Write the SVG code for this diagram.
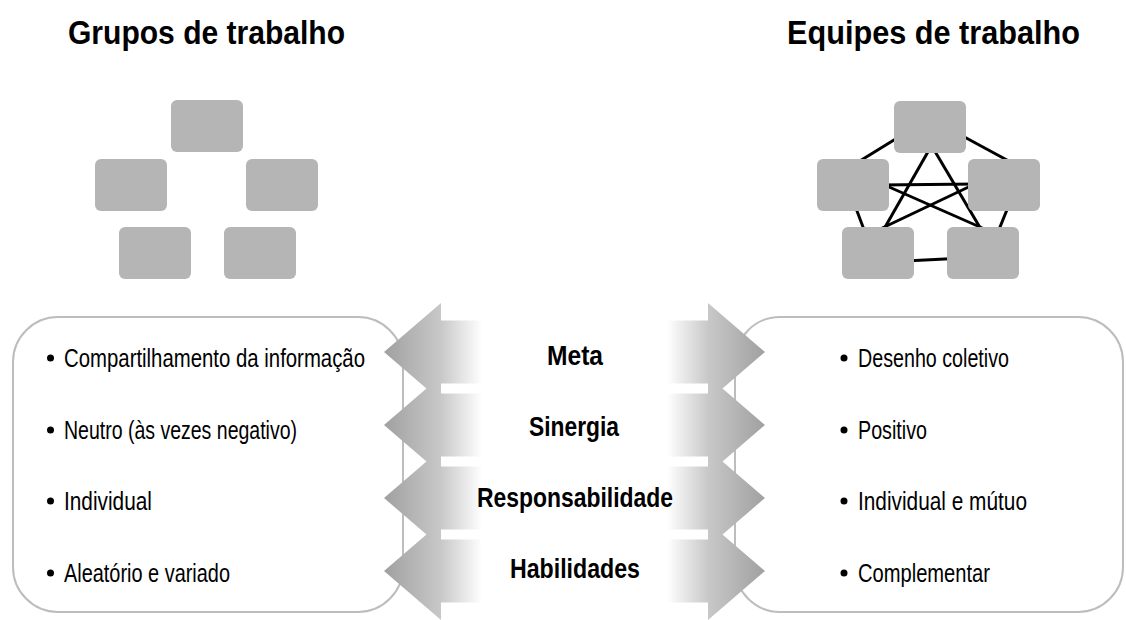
<svg xmlns="http://www.w3.org/2000/svg" width="1126" height="620" viewBox="0 0 1126 620">
<defs>
<style>
.title{font-family:"Liberation Sans Narrow","Liberation Sans",Arial,sans-serif;font-weight:bold;font-size:34px;fill:#000}
.item{font-family:"Liberation Sans Narrow","Liberation Sans",Arial,sans-serif;font-size:26px;fill:#000}
.lbl{font-family:"Liberation Sans Narrow","Liberation Sans",Arial,sans-serif;font-weight:bold;font-size:28px;fill:#000;text-anchor:middle}
.node{fill:#b5b5b5}
.box{fill:#fff;stroke:#bdbdbd;stroke-width:2}
.link{stroke:#000;stroke-width:3;fill:none}
</style>
<linearGradient id="gl" gradientUnits="userSpaceOnUse" x1="384" y1="0" x2="482" y2="0">
<stop offset="0" stop-color="#a0a0a0"/>
<stop offset="0.58" stop-color="#c8c8c8"/>
<stop offset="1" stop-color="#ffffff"/>
</linearGradient>
<linearGradient id="gr" gradientUnits="userSpaceOnUse" x1="765" y1="0" x2="667" y2="0">
<stop offset="0" stop-color="#a0a0a0"/>
<stop offset="0.58" stop-color="#c8c8c8"/>
<stop offset="1" stop-color="#ffffff"/>
</linearGradient>
<path id="al" d="M384,0 L441,-49 L441,-31.5 L484,-31.5 L484,31.5 L441,31.5 L441,49 Z" fill="url(#gl)"/>
<path id="ar" d="M765,0 L708,-49 L708,-31.5 L665,-31.5 L665,31.5 L708,31.5 L708,49 Z" fill="url(#gr)"/>
</defs>
<rect width="1126" height="620" fill="#fff"/>

<g id="title-left"><text class="title" x="68" y="44" textLength="277" lengthAdjust="spacingAndGlyphs">Grupos de trabalho</text></g>
<g id="title-right"><text class="title" x="787" y="44" textLength="293" lengthAdjust="spacingAndGlyphs">Equipes de trabalho</text></g>

<g id="group-left">
<rect id="gl-top" class="node" x="171" y="100" width="72" height="52" rx="6"/>
<rect id="gl-left" class="node" x="95" y="159" width="72" height="52" rx="6"/>
<rect id="gl-right" class="node" x="246" y="159" width="72" height="52" rx="6"/>
<rect id="gl-bl" class="node" x="119" y="227" width="72" height="52" rx="6"/>
<rect id="gl-br" class="node" x="224" y="227" width="72" height="52" rx="6"/>
</g>

<g id="connectors">
<line class="link" x1="854.5" y1="164.2" x2="902.5" y2="134.8"/>
<line class="link" x1="957" y1="133" x2="1013.8" y2="163.8"/>
<line class="link" x1="854" y1="203" x2="866" y2="235"/>
<line class="link" x1="1009.5" y1="203.5" x2="997" y2="234.5"/>
<line class="link" x1="905" y1="261" x2="955" y2="258.5"/>
<line class="link" x1="880" y1="185" x2="977" y2="184"/>
<line class="link" x1="880" y1="183" x2="989" y2="231"/>
<line class="link" x1="977" y1="183" x2="876" y2="231"/>
<line class="link" x1="933" y1="143" x2="880" y2="236"/>
<line class="link" x1="930" y1="143" x2="985" y2="236"/>
</g>

<g id="team-right">
<rect id="tr-top" class="node" x="894" y="101" width="72" height="52" rx="6"/>
<rect id="tr-left" class="node" x="817" y="159" width="72" height="52" rx="6"/>
<rect id="tr-right" class="node" x="968" y="159" width="72" height="52" rx="6"/>
<rect id="tr-bl" class="node" x="842" y="227" width="72" height="52" rx="6"/>
<rect id="tr-br" class="node" x="947" y="227" width="72" height="52" rx="6"/>
</g>

<g id="box-left">
<rect class="box" x="13" y="317" width="390" height="295" rx="45"/>
</g>
<g id="box-right">
<rect class="box" x="735" y="317" width="388" height="295" rx="45"/>
</g>

<g id="arrows">
<use href="#al" y="352"/>
<use href="#al" y="425"/>
<use href="#al" y="498"/>
<use href="#al" y="571"/>
<use href="#ar" y="352"/>
<use href="#ar" y="425"/>
<use href="#ar" y="498"/>
<use href="#ar" y="571"/>
</g>

<g id="labels">
<text class="lbl" x="575" y="365" textLength="56" lengthAdjust="spacingAndGlyphs">Meta</text>
<text class="lbl" x="574" y="436" textLength="90" lengthAdjust="spacingAndGlyphs">Sinergia</text>
<text class="lbl" x="575" y="507" textLength="196" lengthAdjust="spacingAndGlyphs">Responsabilidade</text>
<text class="lbl" x="575" y="578" textLength="130" lengthAdjust="spacingAndGlyphs">Habilidades</text>
</g>

<g id="list-left">
<circle cx="50.5" cy="358" r="3.5"/>
<text class="item" x="64" y="367" textLength="301" lengthAdjust="spacingAndGlyphs">Compartilhamento da informação</text>
<circle cx="50.5" cy="430" r="3.5"/>
<text class="item" x="64" y="439" textLength="233" lengthAdjust="spacingAndGlyphs">Neutro (às vezes negativo)</text>
<circle cx="50.5" cy="501" r="3.5"/>
<text class="item" x="64" y="510" textLength="88" lengthAdjust="spacingAndGlyphs">Individual</text>
<circle cx="50.5" cy="573" r="3.5"/>
<text class="item" x="64" y="582" textLength="166" lengthAdjust="spacingAndGlyphs">Aleatório e variado</text>
</g>

<g id="list-right">
<circle cx="844" cy="358" r="3.5"/>
<text class="item" x="858" y="367" textLength="151" lengthAdjust="spacingAndGlyphs">Desenho coletivo</text>
<circle cx="844" cy="430" r="3.5"/>
<text class="item" x="858" y="439" textLength="69" lengthAdjust="spacingAndGlyphs">Positivo</text>
<circle cx="844" cy="501" r="3.5"/>
<text class="item" x="858" y="510" textLength="169" lengthAdjust="spacingAndGlyphs">Individual e mútuo</text>
<circle cx="844" cy="573" r="3.5"/>
<text class="item" x="858" y="582" textLength="132" lengthAdjust="spacingAndGlyphs">Complementar</text>
</g>
</svg>
